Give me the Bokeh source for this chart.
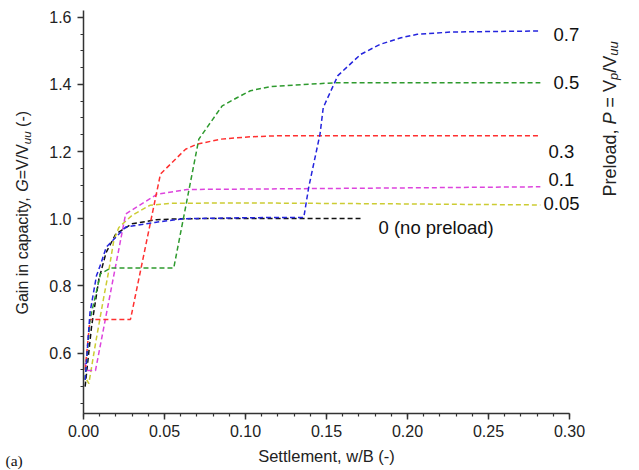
import math
from bokeh.plotting import figure
from bokeh.models import Range1d, FixedTicker, Label, NumeralTickFormatter
from bokeh.embed import file_html
from bokeh.resources import INLINE

# ---------------- data ----------------
black_x = [0.001, 0.005, 0.0095, 0.014, 0.020, 0.030, 0.045, 0.060, 0.100, 0.171]
black_y = [0.50, 0.68, 0.82, 0.90, 0.955, 0.985, 0.997, 1.000, 1.001, 1.001]

yellow_x = [0.002, 0.0033, 0.0074, 0.0125, 0.0156, 0.0187, 0.0218, 0.030, 0.041, 0.054, 0.100, 0.200, 0.282]
yellow_y = [0.52, 0.509, 0.628, 0.766, 0.845, 0.935, 0.974, 1.010, 1.040, 1.046, 1.047, 1.044, 1.041]

magenta_x = [0.001, 0.002, 0.0074, 0.026, 0.0455, 0.064, 0.150, 0.282]
magenta_y = [0.57, 0.548, 0.548, 1.014, 1.073, 1.087, 1.090, 1.095]

red_x = [0.001, 0.004, 0.029, 0.0475, 0.063, 0.070, 0.085, 0.103, 0.120, 0.282]
red_y = [0.55, 0.70, 0.70, 1.133, 1.207, 1.222, 1.237, 1.244, 1.247, 1.247]

green_x = [0.001, 0.004, 0.0105, 0.0167, 0.0557, 0.0712, 0.0856, 0.095, 0.103, 0.115, 0.120, 0.156, 0.282]
green_y = [0.52, 0.70, 0.836, 0.853, 0.853, 1.237, 1.336, 1.361, 1.381, 1.393, 1.395, 1.405, 1.405]

blue_x = [0.001, 0.004, 0.008, 0.011, 0.014, 0.021, 0.026, 0.044, 0.062, 0.100, 0.136,
          0.139, 0.146, 0.148, 0.157, 0.171, 0.183, 0.196, 0.206, 0.227, 0.282]
blue_y = [0.52, 0.72, 0.83, 0.87, 0.915, 0.95, 0.975, 0.989, 1.000, 1.003, 1.004,
          1.093, 1.252, 1.331, 1.426, 1.489, 1.519, 1.539, 1.549, 1.556, 1.559]

series_names = ["0 (no preload)", "0.05", "0.1", "0.3", "0.5", "0.7"]
x_ticks = [0.00, 0.05, 0.10, 0.15, 0.20, 0.25, 0.30]
y_ticks = [0.6, 0.8, 1.0, 1.2, 1.4, 1.6]

# ---------------- styling / layout ----------------
colors = ["#111111", "#cccc33", "#dd44dd", "#ff3030", "#2e9a2e", "#2424dd"]
# label anchor (left edge, vertical middle) in page pixels
label_px = [(378, 227), (543, 203), (548, 179), (548, 151), (553, 82), (553, 34)]

W_PAGE, H_PAGE = 639, 470
AX_LEFT, AX_RIGHT, AX_TOP, AX_BOTTOM = 83, 569, 10, 413   # axes box in page pixels
XA, XB = 0.0, 0.30
YA, YB = 0.42, 1.62


def px_to_x(px):
    return XA + (px - AX_LEFT) * (XB - XA) / (AX_RIGHT - AX_LEFT)


def py_to_y(py):
    return YA + (AX_BOTTOM - py) * (YB - YA) / (AX_BOTTOM - AX_TOP)


p = figure(width=W_PAGE, height=H_PAGE, output_backend="svg", toolbar_location=None,
           title=None,
           x_range=Range1d(px_to_x(0), px_to_x(W_PAGE)),
           y_range=Range1d(py_to_y(H_PAGE), py_to_y(0)),
           min_border=0, min_border_left=0, min_border_right=0,
           min_border_top=0, min_border_bottom=0)
p.xgrid.visible = False
p.ygrid.visible = False
p.outline_line_color = None
p.background_fill_color = "white"
p.border_fill_color = "white"

xs_all = [black_x, yellow_x, magenta_x, red_x, green_x, blue_x]
ys_all = [black_y, yellow_y, magenta_y, red_y, green_y, blue_y]
for xs, ys, c in zip(xs_all, ys_all, colors):
    p.line(xs, ys, line_color=c, line_width=1.5, line_dash="5 3")

FONT = "Liberation Sans"
for ax in (p.xaxis[0], p.yaxis[0]):
    ax.axis_line_color = "#333333"
    ax.axis_line_width = 1.5
    ax.major_tick_line_color = "#333333"
    ax.major_tick_line_width = 1.5
    ax.minor_tick_line_color = "#333333"
    ax.minor_tick_line_width = 1.2
    ax.major_tick_out = 6
    ax.major_tick_in = 0
    ax.minor_tick_out = 3
    ax.minor_tick_in = 0
    ax.major_label_text_font = FONT
    ax.major_label_text_font_size = "16px"
    ax.major_label_text_color = "#222222"

p.xaxis.fixed_location = YA
p.yaxis.fixed_location = XA
p.xaxis.bounds = (XA, XB)
p.yaxis.bounds = (YA, YB)
p.xaxis.ticker = FixedTicker(ticks=x_ticks, minor_ticks=[i * 0.01 for i in range(31)])
p.yaxis.ticker = FixedTicker(ticks=y_ticks, minor_ticks=[0.45 + i * 0.05 for i in range(24)])
p.xaxis.formatter = NumeralTickFormatter(format="0.00")
p.yaxis.formatter = NumeralTickFormatter(format="0.0")
p.xaxis.major_label_standoff = 5
p.yaxis.major_label_standoff = 6
p.xaxis.axis_label = "Settlement, w/B (-)"
p.xaxis.axis_label_text_font = FONT
p.xaxis.axis_label_text_font_size = "16.5px"
p.xaxis.axis_label_text_font_style = "normal"
p.xaxis.axis_label_text_color = "#222222"
p.xaxis.axis_label_standoff = 7

# curve labels
for name, (lx, ly) in zip(series_names, label_px):
    p.add_layout(Label(x=px_to_x(lx), y=py_to_y(ly), text=name, text_font=FONT,
                       text_font_size="18.5px", text_color="#111111",
                       text_align="left", text_baseline="middle"))

# Arial advance widths (per 1000 em)
AW = {"G": 778, "a": 556, "i": 222, "n": 556, " ": 278, "c": 500, "p": 556, "t": 278,
      "y": 500, ",": 278, "=": 584, "V": 667, "/": 278, "u": 556, "(": 333, "-": 333,
      ")": 333, "P": 667, "r": 333, "e": 556, "l": 222, "o": 556, "d": 556}


def rotated_text(segments, cx_px, start_py, size):
    """segments: (text, italic, scale, shift_px); text runs upward from start_py."""
    cur = start_py
    for txt, ital, sc, shift in segments:
        fs = size * sc
        stripped = txt.lstrip(" ")
        cur -= (len(txt) - len(stripped)) * AW[" "] / 1000.0 * fs
        p.add_layout(Label(x=px_to_x(cx_px + shift), y=py_to_y(cur), text=stripped,
                           angle=math.pi / 2, text_font=FONT, text_font_size=f"{fs:.1f}px",
                           text_font_style="italic" if ital else "normal",
                           text_color="#222222", text_align="left", text_baseline="middle"))
        cur -= sum(AW.get(ch, 556) for ch in stripped) / 1000.0 * fs


rotated_text([("Gain in capacity, ", False, 1.0, 0), ("G", True, 1.0, 0),
              ("=V/V", False, 1.0, 0), ("uu", True, 0.72, 4), (" (-)", False, 1.0, 0)],
             22, 314, 16)

rotated_text([("Preload, ", False, 1.0, 0), ("P", True, 1.0, 0), (" = V", False, 1.0, 0),
              ("p", True, 0.72, 4), ("/V", False, 1.0, 0), ("uu", True, 0.72, 4)],
             609, 196, 18)

p.add_layout(Label(x=px_to_x(5), y=py_to_y(460), text="(a)", text_font="Liberation Serif",
                   text_font_size="15.5px", text_color="#111111",
                   text_align="left", text_baseline="middle"))

open("out.html", "w").write(file_html(p, INLINE))
